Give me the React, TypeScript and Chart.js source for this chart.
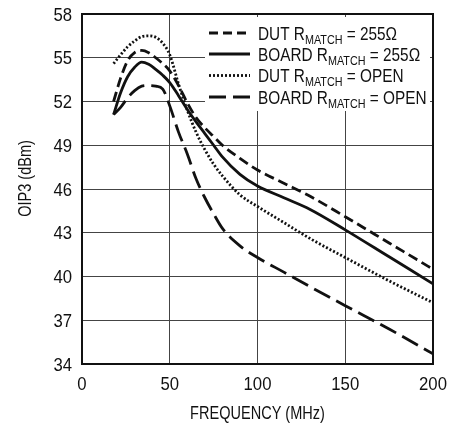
import React, { useEffect, useRef } from 'react';
import { Chart, registerables } from 'chart.js';

Chart.register(...registerables);

const FREQ = [18, 22, 26, 30, 34, 38, 42, 46, 50, 55, 60, 65, 70, 75, 80, 90, 100, 115, 130, 150, 175, 200];
const DUT_255 = [52.0, 53.6, 54.8, 55.35, 55.5, 55.35, 55.0, 54.6, 54.1, 53.1, 51.9, 50.9, 50.2, 49.6, 49.0, 48.1, 47.3, 46.4, 45.5, 44.1, 42.3, 40.5];
const BOARD_255 = [51.1, 52.6, 53.7, 54.35, 54.7, 54.55, 54.2, 53.8, 53.3, 52.4, 51.45, 50.6, 49.8, 49.0, 48.2, 47.0, 46.2, 45.4, 44.6, 43.2, 41.35, 39.5];
const DUT_OPEN = [54.6, 55.2, 55.75, 56.15, 56.45, 56.5, 56.4, 56.0, 55.2, 53.2, 51.4, 49.9, 48.7, 47.7, 46.9, 45.6, 44.8, 43.7, 42.6, 41.3, 39.7, 38.2];
const BOARD_OPEN = [51.1, 51.6, 52.25, 52.75, 53.05, 53.1, 53.05, 52.85, 51.7, 49.9, 48.4, 46.7, 45.4, 44.3, 43.3, 42.1, 41.3, 40.3, 39.3, 38.0, 36.4, 34.7];

const X_MIN = 0;
const X_MAX = 200;
const X_STEP = 50;
const Y_MIN = 34;
const Y_MAX = 58;
const Y_STEP = 3;

const X_TITLE = 'FREQUENCY (MHz)';
const Y_TITLE = 'OIP3 (dBm)';

const LEGEND_MAIN = ['DUT R', 'BOARD R', 'DUT R', 'BOARD R'];
const LEGEND_SUB = ['MATCH', 'MATCH', 'MATCH', 'MATCH'];
const LEGEND_TAIL = [' = 255Ω', ' = 255Ω', ' = OPEN', ' = OPEN'];

const FONT = '"Liberation Sans", Arial, Helvetica, sans-serif';

const SERIES = [
  { values: DUT_255, dash: [10, 5], legendDash: [9, 5] },
  { values: BOARD_255, dash: [], legendDash: [] },
  { values: DUT_OPEN, dash: [2, 2], legendDash: [2, 2] },
  { values: BOARD_OPEN, dash: [18, 7], legendDash: [17, 7] },
];

// draws text horizontally condensed (narrow face look)
function narrowText(ctx: any, text: string, x: number, y: number, size: number, sx: number, align: 'left' | 'center' | 'right') {
  ctx.save();
  ctx.font = `${size}px ${FONT}`;
  ctx.textBaseline = 'alphabetic';
  ctx.textAlign = 'left';
  const w = ctx.measureText(text).width * sx;
  let x0 = x;
  if (align === 'center') x0 = x - w / 2;
  if (align === 'right') x0 = x - w;
  ctx.translate(x0, y);
  ctx.scale(sx, 1);
  ctx.fillText(text, 0, 0);
  ctx.restore();
  return w;
}

const decorPlugin = {
  id: 'decor',
  beforeDraw(chart: any) {
    const ctx = chart.ctx;
    ctx.save();
    ctx.fillStyle = '#ffffff';
    ctx.fillRect(0, 0, chart.width, chart.height);
    ctx.restore();
  },
  afterDatasetsDraw(chart: any) {
    const ctx = chart.ctx;
    const area = chart.chartArea;
    ctx.save();
    const bx = 205;
    const by = area.top + 3;
    const bw = area.right - 3 - bx;
    const bh = 94;
    ctx.fillStyle = '#ffffff';
    ctx.fillRect(bx, by, bw, bh);
    const rows = [33, 54, 75.5, 97];
    for (let i = 0; i < SERIES.length; i++) {
      const cy = rows[i];
      ctx.beginPath();
      ctx.setLineDash(SERIES[i].legendDash);
      ctx.lineWidth = 2.8;
      ctx.strokeStyle = '#111';
      ctx.moveTo(209, cy);
      ctx.lineTo(250, cy);
      ctx.stroke();
      ctx.setLineDash([]);
      ctx.fillStyle = '#111';
      let x = 258;
      const base = cy + 6.5;
      x += narrowText(ctx, LEGEND_MAIN[i], x, base, 18.5, 0.83, 'left');
      x += narrowText(ctx, LEGEND_SUB[i], x, base + 4, 13, 0.83, 'left');
      narrowText(ctx, LEGEND_TAIL[i], x, base, 18.5, 0.83, 'left');
    }
    ctx.restore();
  },
  afterDraw(chart: any) {
    const ctx = chart.ctx;
    const area = chart.chartArea;
    ctx.save();
    ctx.strokeStyle = '#111';
    ctx.lineWidth = 2;
    ctx.strokeRect(area.left, area.top, area.right - area.left, area.bottom - area.top);
    ctx.fillStyle = '#111';
    // tick labels from the library's scales
    const xs = chart.scales.x;
    const ys = chart.scales.y;
    xs.ticks.forEach((t: any) => {
      narrowText(ctx, String(t.value), xs.getPixelForValue(t.value), 389.5, 19, 0.88, 'center');
    });
    ys.ticks.forEach((t: any) => {
      narrowText(ctx, String(t.value), 72, ys.getPixelForValue(t.value) + 6.7, 19, 0.88, 'right');
    });
    // axis titles
    narrowText(ctx, X_TITLE, (area.left + area.right) / 2, 419, 17.5, 0.83, 'center');
    ctx.translate(31, 178.5);
    ctx.rotate(-Math.PI / 2);
    narrowText(ctx, Y_TITLE, 0, 0, 17.5, 0.83, 'center');
    ctx.restore();
  },
};

export default function App() {
  const ref = useRef<HTMLCanvasElement | null>(null);
  useEffect(() => {
    document.body.style.margin = '0';
    const canvas = ref.current;
    if (!canvas) return;
    const chart = new Chart(canvas, {
      type: 'line',
      data: {
        datasets: SERIES.map((s, i) => ({
          label: LEGEND_MAIN[i] + LEGEND_SUB[i] + LEGEND_TAIL[i],
          data: FREQ.map((f, j) => ({ x: f, y: s.values[j] })),
          borderColor: '#111',
          borderWidth: 2.8,
          borderDash: s.dash,
          pointRadius: 0,
          fill: false,
          cubicInterpolationMode: 'monotone' as const,
        })),
      },
      options: {
        responsive: false,
        animation: false,
        layout: { padding: { top: 14, right: 17, bottom: 0, left: 0 } },
        plugins: { legend: { display: false }, tooltip: { enabled: false } },
        scales: {
          x: {
            type: 'linear',
            min: X_MIN,
            max: X_MAX,
            ticks: { stepSize: X_STEP, display: false },
            grid: { color: '#444', lineWidth: 1, drawTicks: false },
            border: { display: false },
            afterFit: (s: any) => { s.height = 60; },
          },
          y: {
            type: 'linear',
            min: Y_MIN,
            max: Y_MAX,
            ticks: { stepSize: Y_STEP, display: false },
            grid: { color: '#444', lineWidth: 1, drawTicks: false },
            border: { display: false },
            afterFit: (s: any) => { s.width = 82; },
          },
        },
      },
      plugins: [decorPlugin],
    } as any);
    return () => chart.destroy();
  }, []);
  return (
    <div style={{ width: 450, height: 424 }}>
      <canvas ref={ref} width={450} height={424} style={{ display: 'block' }} />
    </div>
  );
}
